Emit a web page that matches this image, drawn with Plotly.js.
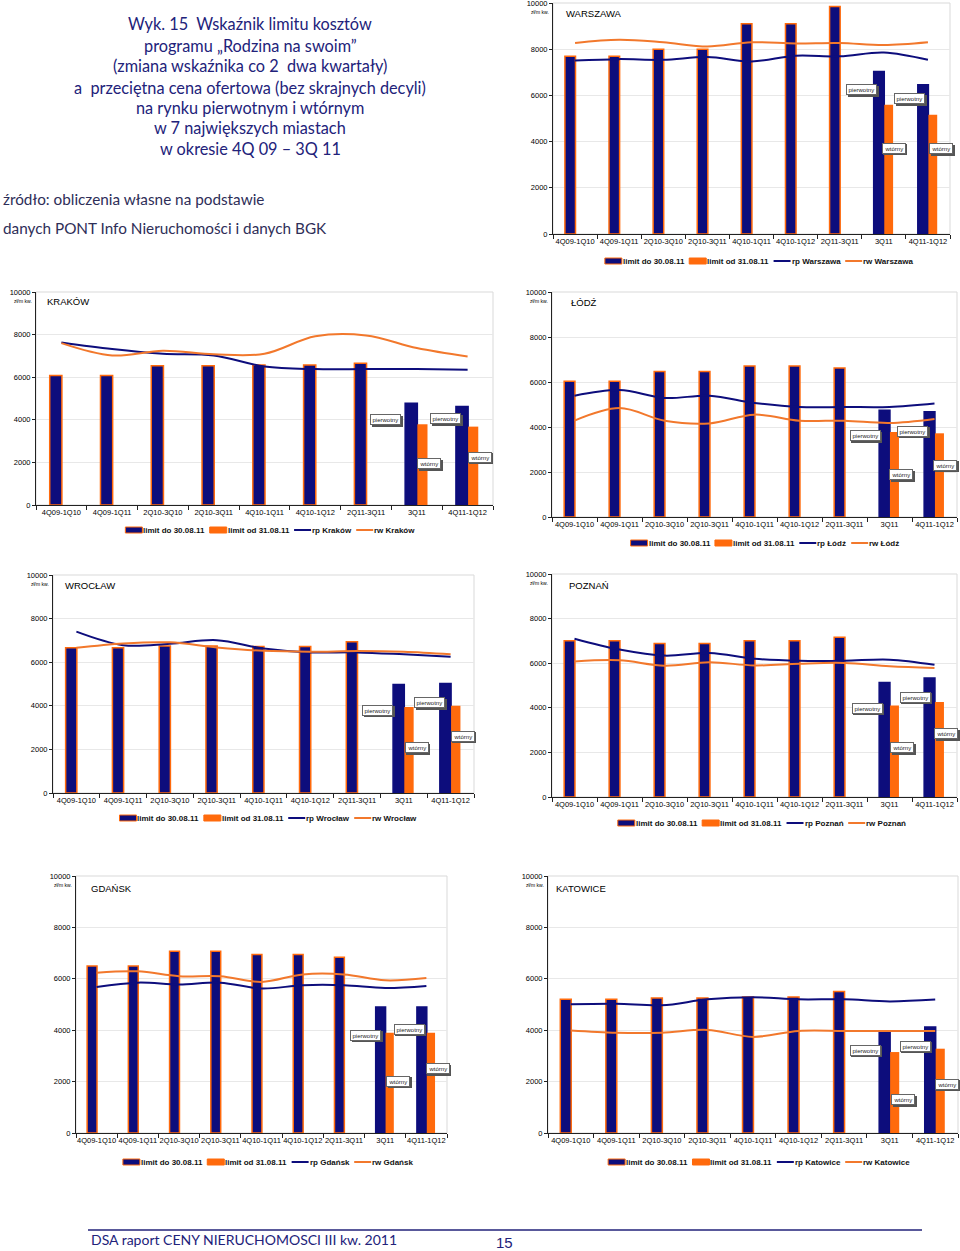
<!DOCTYPE html>
<html><head><meta charset="utf-8">
<script src="https://cdn.plot.ly/plotly-3.0.1.min.js"></script>
<style>html,body{margin:0;padding:0;background:#fff;} #chart{width:960px;height:1251px;}</style>
</head><body><div id="chart"></div>
<script>
// ---------- DATA ----------
const CATEGORIES = ['4Q09-1Q10','4Q09-1Q11','2Q10-3Q10','2Q10-3Q11','4Q10-1Q11','4Q10-1Q12','2Q11-3Q11','3Q11','4Q11-1Q12'];
const SERIES_NAMES = ['limit do 30.08.11','limit od 31.08.11'];
const CALLOUT_LABELS = ['pierwotny','wtórny'];
const Y_TICKS = [0,2000,4000,6000,8000,10000];
const UNIT_LABEL = 'zł/m kw.';

const warszawaLimitDo   = [7700,7700,8000,8000,9100,9100,9850];
const warszawaPierwotny = [7040,6460];
const warszawaWtorny    = [5600,5160];
const warszawaRp = [7510,7570,7540,7660,7470,7720,7690,7860,7540];
const warszawaRw = [8270,8410,8300,8120,8300,8250,8270,8180,8300];

const krakowLimitDo   = [6080,6080,6540,6540,6570,6570,6650];
const krakowPierwotny = [4780,4620];
const krakowWtorny    = [3790,3680];
const krakowRp = [7630,7320,7100,7020,6500,6380,6380,6380,6350];
const krakowRw = [7600,7020,7240,7080,7100,7920,7960,7370,6970];

const lodzLimitDo   = [6030,6030,6470,6470,6710,6710,6620];
const lodzPierwotny = [4740,4680];
const lodzWtorny    = [3780,3720];
const lodzRp = [5390,5640,5290,5390,5070,4890,4890,4890,5040];
const lodzRw = [4280,4840,4280,4160,4550,4280,4280,4180,4360];

const wroclawLimitDo   = [6660,6660,6740,6740,6720,6720,6940];
const wroclawPierwotny = [4980,5020];
const wroclawWtorny    = [3950,4000];
const wroclawRp = [7400,6780,6850,7010,6630,6450,6450,6360,6250];
const wroclawRw = [6660,6860,6910,6680,6520,6480,6510,6480,6360];

const poznanLimitDo   = [7010,7010,6880,6880,7010,7010,7160];
const poznanPierwotny = [5140,5340];
const poznanWtorny    = [4100,4260];
const poznanRp = [7100,6610,6340,6460,6200,6110,6110,6160,5930];
const poznanRw = [6080,6130,5890,6040,5900,5980,6010,5860,5780];

const gdanskLimitDo   = [6500,6500,7070,7070,6950,6950,6840];
const gdanskPierwotny = [4900,4900];
const gdanskWtorny    = [3900,3900];
const gdanskRp = [5680,5850,5780,5850,5620,5750,5750,5640,5720];
const gdanskRw = [6240,6290,6100,6100,5880,6170,6170,5940,6030];

const katowiceLimitDo   = [5200,5200,5250,5250,5290,5290,5510];
const katowicePierwotny = [3970,4120];
const katowiceWtorny    = [3150,3280];
const katowiceRp = [5010,5030,4970,5200,5280,5200,5200,5120,5190];
const katowiceRw = [3990,3900,3900,4010,3740,3970,3970,3970,3970];

const TITLE_LINES = [
  'Wyk. 15  Wskaźnik limitu kosztów',
  'programu „Rodzina na swoim”',
  '(zmiana wskaźnika co 2  dwa kwartały)',
  'a  przeciętna cena ofertowa (bez skrajnych decyli)',
  'na rynku pierwotnym i wtórnym',
  'w 7 największych miastach',
  'w okresie 4Q 09 – 3Q 11'
];
const SOURCE_LINES = ['źródło: obliczenia własne na podstawie','danych PONT Info Nieruchomości i danych BGK'];
const FOOTER_TEXT = 'DSA raport CENY NIERUCHOMOSCI III kw. 2011';
const PAGE_NUMBER = '15';

// ---------- LAYOUT CONFIG ----------
const W = 960, H = 1251;
const NAVY = '#0d0d7c', ORANGE = '#ff6a0c', ORANGE_LINE = '#f2782c', TEXT_NAVY = '#22227a';
const fx = p => p / W, fy = p => 1 - p / H;
const FONT = 'Liberation Sans, Arial, sans-serif';
const TFONT = 'Lato, Open Sans, sans-serif';

const PANELS = [
  {city:'Warszawa', label:'WARSZAWA', lim:warszawaLimitDo, p:warszawaPierwotny, w:warszawaWtorny, rp:warszawaRp, rw:warszawaRw,
   box:[553,950,3,234], legend:[759,261], name:[11,11], callouts:[[-0.5,6240],[0.22,3710],[-0.41,5850],[0.3,3690]]},
  {city:'Kraków', label:'KRAKÓW', lim:krakowLimitDo, p:krakowPierwotny, w:krakowWtorny, rp:krakowRp, rw:krakowRw,
   box:[36,493,292,505], legend:[270,530], name:[9,10], callouts:[[-0.61,4000],[0.24,1930],[-0.43,4040],[0.24,2240]]},
  {city:'Łódź', label:'ŁÓDŹ', lim:lodzLimitDo, p:lodzPierwotny, w:lodzWtorny, rp:lodzRp, rw:lodzRw,
   box:[552,957,292,517], legend:[765,543], name:[17,11], callouts:[[-0.54,3610],[0.26,1880],[-0.48,3810],[0.24,2300]]},
  {city:'Wrocław', label:'WROCŁAW', lim:wroclawLimitDo, p:wroclawPierwotny, w:wroclawWtorny, rp:wroclawRp, rw:wroclawRw,
   box:[53,474,575,793], legend:[268,818], name:[10,10], callouts:[[-0.56,3800],[0.28,2070],[-0.45,4130],[0.26,2600]]},
  {city:'Poznań', label:'POZNAŃ', lim:poznanLimitDo, p:poznanPierwotny, w:poznanWtorny, rp:poznanRp, rw:poznanRw,
   box:[552,957,574,797], legend:[762,823], name:[15,11], callouts:[[-0.5,3990],[0.28,2200],[-0.43,4470],[0.26,2830]]},
  {city:'Gdańsk', label:'GDAŃSK', lim:gdanskLimitDo, p:gdanskPierwotny, w:gdanskWtorny, rp:gdanskRp, rw:gdanskRw,
   box:[76,447,876,1133], legend:[268,1162], name:[13,12], callouts:[[-0.47,3800],[0.32,2010],[-0.41,4030],[0.28,2500]]},
  {city:'Katowice', label:'KATOWICE', lim:katowiceLimitDo, p:katowicePierwotny, w:katowiceWtorny, rp:katowiceRp, rw:katowiceRw,
   box:[548,958,876,1133], legend:[759,1162], name:[6,12], callouts:[[-0.54,3220],[0.3,1300],[-0.44,3370],[0.25,1890]]}
];

// text measurement for the hand-built legends
const mctx = document.createElement('canvas').getContext('2d');
const LEG_FONT_SIZE = 8;
mctx.font = 'bold ' + LEG_FONT_SIZE + 'px "Liberation Sans", Arial, sans-serif';
const tw = s => mctx.measureText(s).width;

const traces = [];
const layout = {
  width: W, height: H, margin:{l:0,r:0,t:0,b:0},
  paper_bgcolor:'#fff', plot_bgcolor:'#fff',
  barmode:'overlay', hovermode:false, showlegend:false,
  annotations:[], shapes:[]
};

PANELS.forEach((P, i) => {
  const k = i + 1;
  const xa = 'x' + (k > 1 ? k : ''), ya = 'y' + (k > 1 ? k : '');
  const [l, r, t, b] = P.box;
  const nLim = P.lim.length;

  traces.push({
    type:'bar', x: CATEGORIES, y: P.lim.concat(P.p), xaxis: xa, yaxis: ya,
    name: SERIES_NAMES[0], offset: -0.23, width: 0.24,
    marker:{color: NAVY, line:{color: CATEGORIES.map((c, j) => j < nLim ? ORANGE : NAVY), width: 1.5}}
  });
  traces.push({
    type:'bar', x: CATEGORIES.slice(nLim), y: P.w, xaxis: xa, yaxis: ya,
    name: SERIES_NAMES[1], offset: 0.01, width: 0.2,
    marker:{color: ORANGE, line:{width:0}}
  });
  traces.push({
    type:'scatter', mode:'lines', x: CATEGORIES, y: P.rp, xaxis: xa, yaxis: ya,
    name: 'rp ' + P.city, line:{color: NAVY, width: 2, shape:'spline', smoothing: 1}
  });
  traces.push({
    type:'scatter', mode:'lines', x: CATEGORIES, y: P.rw, xaxis: xa, yaxis: ya,
    name: 'rw ' + P.city, line:{color: ORANGE_LINE, width: 2, shape:'spline', smoothing: 1}
  });

  layout['xaxis' + (k > 1 ? k : '')] = {
    domain:[fx(l), fx(r)], anchor: ya, type:'category', categoryorder:'array', categoryarray: CATEGORIES,
    range:[-0.5, 8.5], showgrid:false, zeroline:false, tickangle: 0, automargin:false,
    showline:true, linecolor:'#222', linewidth:1, ticks:'outside', tickson:'boundaries', ticklen:4, tickcolor:'#222',
    tickfont:{family: FONT, size: 7.5, color:'#000'}, fixedrange:true
  };
  layout['yaxis' + (k > 1 ? k : '')] = {
    domain:[fy(b), fy(t)], anchor: xa, range:[0, 10000], tickvals: Y_TICKS, ticktext: Y_TICKS.map(String),
    showgrid:true, gridcolor:'#e8e8e8', gridwidth:1, zeroline:false, automargin:false, ticklabeloverflow:'allow',
    showline:true, linecolor:'#222', linewidth:1, ticks:'outside', ticklen:3, tickcolor:'#222',
    tickfont:{family: FONT, size: 7.5, color:'#000'}, fixedrange:true
  };

  // light plot-area frame
  layout.shapes.push({type:'rect', xref: xa + ' domain', yref: ya + ' domain', x0:0, x1:1, y0:0, y1:1,
    line:{color:'#d9d9d9', width:1}, layer:'below'});

  // city name
  layout.annotations.push({xref: xa + ' domain', yref: ya + ' domain', x:0, y:1, xanchor:'left', yanchor:'middle',
    xshift: P.name[0], yshift: -P.name[1], showarrow:false, text: P.label,
    font:{family: FONT, size: 9.5, color:'#000'}});
  // unit
  layout.annotations.push({xref: xa + ' domain', yref: ya + ' domain', x:0, y:1, xanchor:'right', yanchor:'middle',
    xshift: -2, yshift: -9, showarrow:false, text: UNIT_LABEL,
    font:{family: FONT, size: 5, color:'#000'}});
  // callouts (with a small drop shadow)
  const cIdx = [nLim, nLim, nLim + 1, nLim + 1];
  P.callouts.forEach((c, j) => {
    const base = {xref: xa, yref: ya, x: cIdx[j] + c[0], y: c[1], showarrow:false,
      text: CALLOUT_LABELS[j % 2], borderwidth:1, borderpad:1.5};
    layout.annotations.push(Object.assign({}, base, {xshift: 1.5, yshift: -1.5, bgcolor:'#555', bordercolor:'#555',
      font:{family: FONT, size: 6, color:'#555'}}));
    layout.annotations.push(Object.assign({}, base, {bgcolor:'#fff', bordercolor:'#666',
      font:{family: FONT, size: 6, color:'#222'}}));
  });

  // legend (hand-built row under each chart)
  const items = [
    {kind:'bar', fill: NAVY, edge: ORANGE, text: SERIES_NAMES[0]},
    {kind:'bar', fill: ORANGE, edge: ORANGE, text: SERIES_NAMES[1]},
    {kind:'line', color: NAVY, text: 'rp ' + P.city},
    {kind:'line', color: ORANGE_LINE, text: 'rw ' + P.city}
  ];
  const SW = 17, G1 = 1, G2 = 5;
  const total = items.reduce((s, it) => s + SW + G1 + tw(it.text) + G2, 0) - G2;
  let cx = P.legend[0] - total / 2;
  const ly = P.legend[1];
  items.forEach(it => {
    if (it.kind === 'bar') {
      layout.shapes.push({type:'rect', xref:'paper', yref:'paper', x0: fx(cx), x1: fx(cx + SW), y0: fy(ly + 3), y1: fy(ly - 3),
        fillcolor: it.fill, line:{color: it.edge, width: 1}});
    } else {
      layout.shapes.push({type:'line', xref:'paper', yref:'paper', x0: fx(cx), x1: fx(cx + SW), y0: fy(ly), y1: fy(ly),
        line:{color: it.color, width: 2}});
    }
    cx += SW + G1;
    layout.annotations.push({xref:'paper', yref:'paper', x: fx(cx - 1), y: fy(ly), xanchor:'left', yanchor:'middle',
      showarrow:false, text: it.text, borderpad:0, font:{family: FONT, size: LEG_FONT_SIZE, color:'#111', weight:'bold'}});
    cx += tw(it.text) + G2;
  });
});

// Title block
const titleY = [24,45,65,87,107,127,148];
TITLE_LINES.forEach((t, i) => {
  layout.annotations.push({xref:'paper', yref:'paper', x: fx(250), y: fy(titleY[i]), xanchor:'center', yanchor:'middle',
    showarrow:false, text: t, font:{family: TFONT, size: 16.3, color: TEXT_NAVY}});
});
SOURCE_LINES.forEach((t, i) => {
  layout.annotations.push({xref:'paper', yref:'paper', x: fx(1), y: fy([199,228][i]), xanchor:'left', yanchor:'middle',
    showarrow:false, text: t, font:{family: TFONT, size: 15.3, color:'#2e2e58'}});
});
// footer
layout.shapes.push({type:'line', xref:'paper', yref:'paper', x0: fx(88), x1: fx(922), y0: fy(1230), y1: fy(1230),
  line:{color: TEXT_NAVY, width: 1.5}});
layout.annotations.push({xref:'paper', yref:'paper', x: fx(89), y: fy(1239), xanchor:'left', yanchor:'middle',
  showarrow:false, text: FOOTER_TEXT, font:{family: TFONT, size: 14, color: TEXT_NAVY}});
layout.annotations.push({xref:'paper', yref:'paper', x: fx(504), y: fy(1242), xanchor:'center', yanchor:'middle',
  showarrow:false, text: PAGE_NUMBER, font:{family: FONT, size: 15, color: TEXT_NAVY}});

Plotly.newPlot('chart', traces, layout, {displayModeBar:false, staticPlot:true});
</script>
</body></html>
